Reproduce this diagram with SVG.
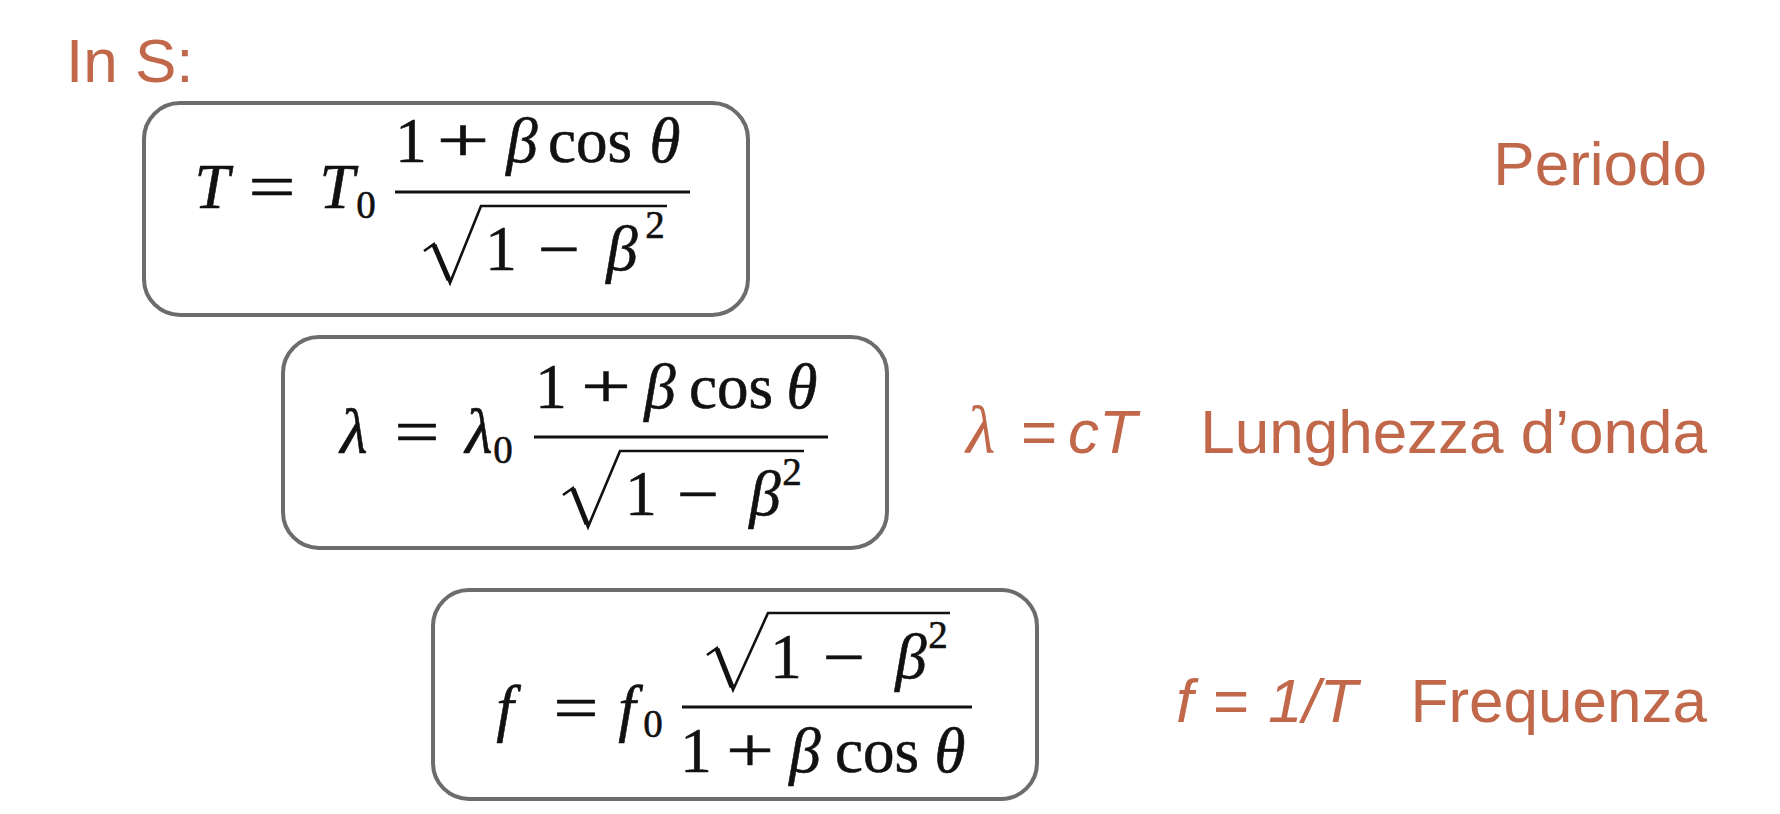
<svg xmlns="http://www.w3.org/2000/svg" width="1780" height="814" viewBox="0 0 1780 814">
<style>
.box{fill:#fff;stroke:#6C6C6C;stroke-width:4}
.m{font-family:"Liberation Serif","Times New Roman",serif;font-size:63px;fill:#111;stroke:#111;stroke-width:0.6;text-anchor:middle}
.i{font-style:italic}
.s{font-size:39px}
.bar{stroke:#111;stroke-width:3.2;fill:none}
.rad{stroke:#111;stroke-width:2.6;fill:none;stroke-linejoin:miter}
.radk{stroke:#111;stroke-width:5;fill:none;stroke-linecap:butt}
.lab{font-family:"Liberation Sans",Arial,sans-serif;font-size:62px;fill:#C1674A}
</style>
<rect width="1780" height="814" fill="#fff"/>
<g id="title"><text class="lab" x="66" y="82">In S:</text></g>

<g id="node-periodo">
<rect class="box" x="144" y="103" width="604" height="212" rx="36"/>
<text class="m i" x="212" y="208" font-size="66">T</text>
<text class="m" x="272" y="208" textLength="47" lengthAdjust="spacingAndGlyphs">=</text>
<text class="m i" x="337" y="208" font-size="66">T</text>
<text class="m s" x="366" y="218">0</text>
<line class="bar" x1="395" y1="192" x2="690" y2="192"/>
<text class="m" x="411" y="162">1</text>
<text class="m" x="463" y="162" textLength="53" lengthAdjust="spacingAndGlyphs">+</text>
<text class="m i" x="522" y="162">β</text>
<text class="m" x="590" y="162">cos</text>
<text class="m i" x="665" y="162">θ</text>
<path class="rad" d="M424,251 L434,244 L450,283 L481,206 H667"/>
<path class="radk" d="M434,245 L449,280"/>
<text class="m" x="501" y="270">1</text>
<text class="m" x="559" y="270" textLength="42" lengthAdjust="spacingAndGlyphs">−</text>
<text class="m i" x="622" y="270">β</text>
<text class="m s" x="655" y="238">2</text>
</g>
<g id="label-periodo"><text class="lab" x="1707" y="185" text-anchor="end">Periodo</text></g>

<g id="node-lunghezza">
<rect class="box" x="283" y="337" width="604" height="211" rx="36"/>
<text class="m i" x="354" y="453">λ</text>
<text class="m" x="417" y="453" textLength="45" lengthAdjust="spacingAndGlyphs">=</text>
<text class="m i" x="479" y="453">λ</text>
<text class="m s" x="503" y="463">0</text>
<line class="bar" x1="534" y1="437" x2="828" y2="437"/>
<text class="m" x="551" y="408">1</text>
<text class="m" x="606" y="408" textLength="50" lengthAdjust="spacingAndGlyphs">+</text>
<text class="m i" x="660" y="408">β</text>
<text class="m" x="731" y="408">cos</text>
<text class="m i" x="802" y="408">θ</text>
<path class="rad" d="M563,495 L573,488 L588,527 L620,451 H804"/>
<path class="radk" d="M573,489 L587,524"/>
<text class="m" x="641" y="515">1</text>
<text class="m" x="698" y="515" textLength="42" lengthAdjust="spacingAndGlyphs">−</text>
<text class="m i" x="765" y="515">β</text>
<text class="m s" x="792" y="485">2</text>
</g>
<g id="label-lunghezza">
<text class="lab" y="453"><tspan x="966" font-family="Liberation Serif, serif" font-style="italic" font-size="68">λ</tspan><tspan x="1021">=</tspan><tspan x="1068" font-style="italic">cT</tspan></text>
<text class="lab" x="1707" y="453" text-anchor="end">Lunghezza d’onda</text>
</g>

<g id="node-frequenza">
<rect class="box" x="433" y="590" width="604" height="209" rx="36"/>
<text class="m i" x="505" y="729">f</text>
<text class="m" x="576" y="729" textLength="45" lengthAdjust="spacingAndGlyphs">=</text>
<text class="m i" x="627" y="729">f</text>
<text class="m s" x="653" y="737">0</text>
<line class="bar" x1="682" y1="707" x2="972" y2="707"/>
<path class="rad" d="M707,655 L717,648 L733,690 L768,613 H950"/>
<path class="radk" d="M717,649 L732,687"/>
<text class="m" x="786" y="678">1</text>
<text class="m" x="844" y="678" textLength="42" lengthAdjust="spacingAndGlyphs">−</text>
<text class="m i" x="911" y="678">β</text>
<text class="m s" x="938" y="648">2</text>
<text class="m" x="696" y="772">1</text>
<text class="m" x="750" y="772" textLength="48" lengthAdjust="spacingAndGlyphs">+</text>
<text class="m i" x="805" y="772">β</text>
<text class="m" x="877" y="772">cos</text>
<text class="m i" x="950" y="772">θ</text>
</g>
<g id="label-frequenza">
<text class="lab" y="722"><tspan x="1176" font-style="italic">f</tspan><tspan x="1213">=</tspan><tspan x="1268" font-style="italic">1/T</tspan></text>
<text class="lab" x="1707" y="722" text-anchor="end">Frequenza</text>
</g>
<g id="connectors"></g>
</svg>
